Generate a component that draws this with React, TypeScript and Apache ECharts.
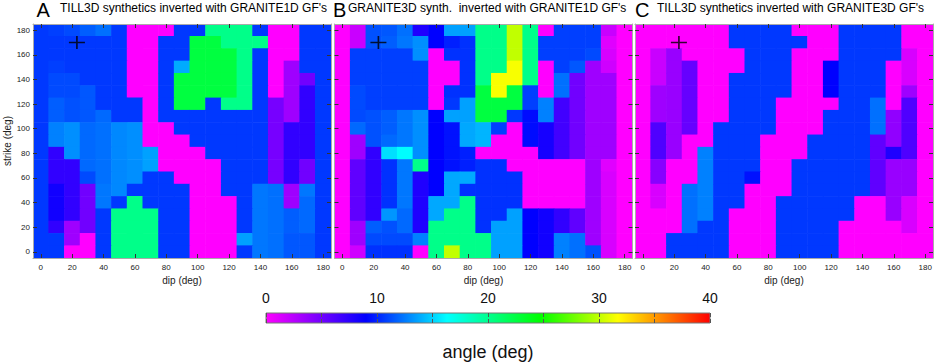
import React, { useEffect, useRef } from 'react';
import * as echarts from 'echarts';

// ---------- data ----------
const DIP = ['0', '10', '20', '30', '40', '50', '60', '70', '80', '90', '100', '110', '120', '130', '140', '150', '160', '170', '180'];
const STRIKE = ['0', '10', '20', '30', '40', '50', '60', '70', '80', '90', '100', '110', '120', '130', '140', '150', '160', '170', '180'];

// angle (deg); rows from strike 180 (top) down to strike 0, columns dip 0..180
const gridA: number[][] = [
  [10.6, 10.8, 11.1, 11.7, 12.2, 10.6, 0, 0, 0, 10.6, 10.6, 20.2, 20.2, 20.2, 10.6, 0, 0, 10.6, 10.6],
  [10.6, 10.6, 10.6, 10.6, 10.6, 10.6, 0, 0, 10.6, 10.6, 22.6, 22.6, 20.2, 20.2, 20.2, 0, 0, 10.6, 10.6],
  [10.6, 10.6, 10.6, 10.6, 10.6, 10.6, 0, 0, 10.6, 10.6, 22.6, 22.6, 22.6, 20.2, 10.6, 0, 0, 10.6, 10.6],
  [10.6, 10.8, 10.6, 10.6, 10.6, 10.6, 0, 0, 10.6, 13.9, 22.6, 22.6, 22.6, 20.2, 10.6, 0, 3.4, 10.6, 10.6],
  [10.6, 11.1, 11.1, 10.6, 10.6, 10.6, 0, 0, 10.6, 22.6, 22.6, 22.6, 22.6, 20.2, 10.6, 0, 3.4, 5.0, 10.6],
  [10.6, 11.1, 11.1, 11.5, 10.6, 10.6, 0, 0, 10.6, 22.6, 22.6, 22.6, 22.6, 20.2, 10.6, 0, 3.4, 7.3, 10.6],
  [10.6, 11.7, 11.3, 11.5, 10.6, 10.6, 10.6, 0, 10.6, 22.6, 22.6, 10.6, 20.2, 20.2, 10.6, 4.8, 3.4, 7.3, 10.6],
  [10.6, 11.7, 11.3, 11.5, 12.0, 10.6, 10.6, 0, 10.6, 10.6, 10.6, 10.6, 10.6, 10.6, 10.6, 4.8, 3.4, 7.3, 10.6],
  [10.6, 12.7, 13.1, 12.0, 12.2, 12.9, 13.1, 0, 0, 10.6, 10.6, 10.6, 10.6, 10.6, 10.6, 4.8, 7.3, 7.3, 10.6],
  [10.6, 12.7, 13.1, 12.0, 12.2, 12.9, 13.1, 0, 0, 0, 10.6, 10.6, 10.6, 10.6, 10.6, 4.8, 7.3, 7.3, 10.6],
  [10.6, 7.3, 13.1, 12.0, 12.2, 12.9, 13.1, 13.6, 0, 0, 0, 10.6, 10.6, 10.6, 10.6, 4.8, 7.3, 7.3, 10.6],
  [10.6, 7.3, 7.3, 12.0, 12.2, 12.9, 13.1, 13.6, 0, 0, 0, 0, 10.6, 10.6, 10.6, 4.8, 7.3, 5.0, 10.6],
  [10.6, 7.3, 7.3, 11.1, 12.2, 12.9, 13.1, 10.6, 10.6, 0, 0, 0, 10.6, 10.6, 10.6, 4.8, 7.3, 5.0, 10.6],
  [10.6, 8.4, 7.3, 5.0, 12.4, 12.9, 10.6, 10.6, 10.6, 10.6, 0, 0, 10.6, 10.6, 12.4, 12.2, 3.4, 12.4, 10.6],
  [10.6, 8.4, 7.3, 5.0, 12.4, 10.6, 20.2, 10.6, 10.6, 10.6, 0, 0, 0, 10.6, 12.4, 12.2, 3.4, 12.0, 10.6],
  [10.6, 8.4, 7.3, 5.0, 10.6, 20.2, 20.2, 20.2, 10.6, 10.6, 0, 0, 0, 10.6, 12.4, 12.2, 11.7, 12.0, 10.6],
  [10.6, 7.3, 3.4, 5.0, 10.6, 20.2, 20.2, 20.2, 10.6, 10.6, 0, 0, 0, 10.6, 12.4, 12.2, 11.7, 12.0, 10.6],
  [10.6, 10.6, 3.4, 0, 10.6, 20.2, 20.2, 20.2, 10.6, 10.6, 0, 0, 0, 13.6, 12.4, 12.2, 11.5, 11.5, 10.6],
  [10.6, 10.6, 0, 0, 10.6, 20.2, 20.2, 20.2, 10.6, 10.6, 0, 0, 0, 10.6, 12.4, 12.2, 11.5, 11.5, 10.6],
];

const gridB: number[][] = [
  [0, 1.9, 11.3, 11.5, 12.2, 7.9, 9.0, 13.6, 13.6, 20.2, 20.2, 30, 20.2, 0, 10.8, 10.8, 10.8, 1.9, 0],
  [0, 1.9, 11.3, 11.7, 12.4, 13.1, 9.0, 9.9, 10.4, 20.2, 20.2, 30, 20.2, 10.8, 10.8, 10.8, 10.8, 1.1, 0],
  [0, 10.8, 10.8, 10.8, 10.8, 13.1, 0, 10.4, 10.4, 20.2, 20.2, 30, 20.2, 10.8, 10.8, 10.8, 11.1, 1.4, 0],
  [0, 10.8, 10.8, 10.8, 10.8, 10.8, 0, 0, 10.4, 20.2, 20.2, 31.5, 20.2, 0, 10.8, 11.5, 3.4, 1.7, 0],
  [0, 10.8, 10.8, 10.8, 10.8, 10.8, 0, 0, 10.4, 20.2, 31.5, 31.5, 20.2, 0, 12.2, 5.0, 3.4, 3.4, 0],
  [0, 11.1, 10.8, 10.8, 10.8, 10.8, 0, 10.4, 10.4, 22.6, 31.5, 22.6, 10.8, 0, 12.2, 5.0, 3.4, 3.4, 0],
  [0, 11.1, 10.8, 10.8, 10.8, 10.8, 0, 10.6, 13.6, 22.6, 22.6, 22.6, 10.8, 12.7, 6.7, 5.0, 3.4, 3.4, 0],
  [0, 11.1, 11.3, 11.7, 12.4, 13.1, 9.0, 13.6, 13.6, 22.6, 22.6, 10.6, 9.3, 12.7, 6.7, 5.0, 3.4, 3.4, 0],
  [0, 12.0, 11.3, 11.7, 12.4, 13.1, 9.0, 9.5, 13.8, 14.2, 10.8, 0, 9.3, 8.2, 6.7, 5.0, 3.4, 3.4, 0],
  [0, 3.4, 11.3, 12.0, 12.4, 13.1, 9.0, 9.5, 13.8, 14.2, 0, 0, 9.3, 8.2, 6.7, 5.0, 3.4, 3.4, 0],
  [0, 3.4, 7.3, 15.4, 16.3, 13.1, 9.0, 9.5, 9.9, 0, 0, 0, 0, 8.2, 6.7, 5.0, 3.4, 3.4, 0],
  [0, 5.6, 7.3, 10.4, 12.4, 20.2, 9.0, 9.5, 9.9, 10.4, 10.4, 0, 0, 0, 0, 0, 3.4, 1.1, 0],
  [0, 5.6, 7.3, 10.4, 12.4, 7.9, 9.0, 13.8, 13.9, 10.4, 10.4, 10.4, 0, 0, 0, 0, 3.4, 1.4, 0],
  [0, 5.6, 7.3, 10.4, 12.4, 7.9, 9.0, 13.8, 10.4, 10.4, 10.4, 10.4, 0, 0, 0, 0, 3.4, 1.4, 0],
  [0, 5.6, 7.3, 10.4, 12.4, 7.9, 13.8, 13.8, 20.2, 10.4, 10.4, 10.4, 0, 0, 0, 0, 3.4, 1.4, 0],
  [0, 5.6, 7.3, 13.3, 12.0, 7.9, 13.8, 20.2, 20.2, 10.4, 10.4, 13.6, 9.0, 8.4, 7.3, 5.6, 3.4, 1.4, 0],
  [0, 3.4, 11.7, 11.3, 12.0, 7.9, 20.2, 20.2, 20.2, 10.4, 13.6, 13.6, 9.0, 8.4, 7.3, 5.6, 3.4, 1.4, 0],
  [0, 3.4, 11.1, 11.1, 11.1, 12.7, 20.2, 20.2, 20.2, 20.2, 13.6, 13.6, 9.0, 8.4, 12.7, 12.2, 3.4, 1.4, 0],
  [0, 1.7, 10.4, 10.4, 10.4, 0, 20.2, 30, 20.2, 20.2, 13.6, 13.6, 9.0, 8.4, 12.7, 12.2, 11.3, 1.4, 0],
];

const gridC: number[][] = [
  [0, 0, 0, 0, 0, 0, 10.6, 10.6, 10.6, 10.6, 0, 0, 0, 10.6, 10.6, 10.6, 10.6, 0, 0],
  [0, 0, 0, 0, 0, 0, 10.6, 10.6, 10.6, 10.6, 10.6, 0, 0, 10.6, 10.6, 10.6, 10.6, 0, 0],
  [0, 1.9, 3.6, 0, 0, 0, 0, 10.6, 10.6, 10.6, 0, 0, 0, 10.6, 10.6, 10.6, 10.6, 1.4, 0],
  [0, 1.9, 3.6, 5.4, 0, 0, 0, 10.6, 10.6, 10.6, 0, 0, 9.0, 10.6, 10.6, 10.6, 0, 1.4, 0],
  [0, 1.9, 3.6, 5.4, 0, 0, 10.6, 10.6, 10.6, 10.6, 0, 0, 9.0, 10.6, 10.6, 10.6, 0, 1.4, 0],
  [0, 3.4, 3.6, 5.4, 0, 0, 10.6, 10.6, 10.6, 10.6, 0, 0, 9.0, 10.6, 10.6, 10.6, 0, 3.4, 0],
  [0, 3.4, 3.6, 5.4, 0, 0, 10.6, 10.6, 10.6, 0, 0, 0, 0, 10.6, 10.6, 12.2, 0, 6.2, 0],
  [0, 3.4, 3.6, 5.4, 0, 0, 10.6, 10.6, 10.6, 0, 0, 0, 10.6, 10.6, 10.6, 12.2, 3.9, 6.2, 0],
  [0, 6.2, 3.6, 5.4, 0, 10.6, 10.6, 10.6, 10.6, 0, 0, 0, 10.6, 10.6, 10.6, 12.2, 3.9, 6.2, 0],
  [0, 6.2, 3.6, 0, 0, 10.6, 10.6, 10.6, 0, 0, 0, 10.6, 10.6, 10.6, 10.6, 5.6, 3.9, 6.2, 0],
  [0, 6.2, 3.6, 0, 12.7, 10.6, 10.6, 10.6, 0, 0, 0, 10.6, 10.6, 10.6, 10.6, 5.6, 7.9, 6.2, 0],
  [0, 4.2, 0, 0, 12.7, 10.6, 10.6, 10.6, 0, 0, 10.6, 10.6, 10.6, 10.6, 10.6, 5.6, 3.6, 3.6, 0],
  [0, 4.2, 0, 0, 12.7, 10.6, 10.6, 9.5, 0, 0, 10.6, 10.6, 10.6, 10.6, 10.6, 5.6, 3.6, 3.6, 0],
  [0, 1.4, 0, 12.2, 12.7, 10.6, 10.6, 0, 0, 0, 10.6, 10.6, 10.6, 10.6, 10.6, 5.6, 3.6, 3.6, 0],
  [0, 1.4, 0, 12.2, 12.7, 10.6, 10.6, 0, 0, 10.6, 10.6, 10.6, 10.6, 10.6, 0, 0, 3.6, 1.4, 0],
  [0, 0, 0, 12.2, 12.7, 10.6, 0, 0, 0, 10.6, 10.6, 10.6, 10.6, 10.6, 0, 0, 3.6, 1.4, 0],
  [0, 0, 0, 12.2, 10.6, 10.6, 0, 0, 0, 10.6, 10.6, 10.6, 10.6, 0, 0, 0, 0, 1.4, 0],
  [0, 0, 10.6, 10.6, 10.6, 10.6, 0, 0, 0, 10.6, 10.6, 10.6, 10.6, 0, 0, 0, 0, 0, 0],
  [0, 0, 10.6, 10.6, 10.6, 10.6, 0, 0, 0, 10.6, 10.6, 10.6, 10.6, 0, 0, 0, 0, 0, 0],
];

const PANEL_LETTERS = ['A', 'B', 'C'];
const PANEL_TITLES = [
  "TILL3D synthetics inverted with GRANITE1D GF's",
  "GRANITE3D synth.  inverted with GRANITE1D GF's",
  "TILL3D synthetics inverted with GRANITE3D GF's",
];
// "+" marker (true solution) in dip / strike
const MARK_DIP = [23, 23, 23];
const MARK_STRIKE = [170, 170, 170];

const CBAR_MIN = 0;
const CBAR_MAX = 40;
const CMAP_POS = [0, 9, 16.3, 24.7, 31.7, 40];
const CMAP_COL = ['#ff00ff', '#0000ff', '#00ffff', '#00ff00', '#ffff00', '#ff0000'];

// ---------- helpers ----------
const FONT = 'Liberation Sans, Arial, sans-serif';
const PANEL_LEFT = [33, 334.5, 635];
const PANEL_W = 298;
const PANEL_TOP = 24;
const PANEL_H = 234;

function hexToRgb(h: string) {
  return [parseInt(h.slice(1, 3), 16), parseInt(h.slice(3, 5), 16), parseInt(h.slice(5, 7), 16)];
}
function cmap(v: number) {
  let i = 0;
  while (i < CMAP_POS.length - 2 && v > CMAP_POS[i + 1]) i++;
  const t = Math.min(1, Math.max(0, (v - CMAP_POS[i]) / (CMAP_POS[i + 1] - CMAP_POS[i])));
  const a = hexToRgb(CMAP_COL[i]);
  const b = hexToRgb(CMAP_COL[i + 1]);
  const c = a.map((x, k) => Math.round(x + (b[k] - x) * t));
  return `rgb(${c[0]},${c[1]},${c[2]})`;
}
const PALETTE = Array.from({ length: 161 }, (_, i) => cmap(CBAR_MIN + (i * (CBAR_MAX - CBAR_MIN)) / 160));

function toCells(g: number[][]) {
  const out: number[][] = [];
  g.forEach((row, r) => row.forEach((v, c) => out.push([c, g.length - 1 - r, v])));
  return out;
}

export default function App() {
  const ref = useRef<HTMLDivElement>(null);
  useEffect(() => {
    document.body.style.margin = '0';
    const chart = echarts.init(ref.current!, undefined, { renderer: 'svg' });
    const grids = [gridA, gridB, gridC];

    const gridOpts: any[] = PANEL_LEFT.map((l) => ({ left: l, top: PANEL_TOP, width: PANEL_W, height: PANEL_H }));
    gridOpts.push({ left: 266, top: 313, width: 444, height: 21 });

    const xAxes: any[] = [];
    const yAxes: any[] = [];
    const series: any[] = [];
    const tickStyle = { show: true, inside: true, alignWithLabel: true, interval: 1, length: 4, lineStyle: { color: '#333', width: 1 } };
    const lineStyle = { show: true, onZero: false, lineStyle: { color: '#aaa', width: 1 } };

    for (let p = 0; p < 3; p++) {
      xAxes.push({
        type: 'category', gridIndex: p, data: DIP, position: 'bottom', z: 10,
        axisLine: lineStyle, axisTick: tickStyle,
        axisLabel: { interval: 1, fontSize: 8, color: '#222', margin: 5, fontFamily: FONT },
        name: 'dip (deg)', nameLocation: 'middle', nameGap: 17,
        nameTextStyle: { fontSize: 10, color: '#222', fontFamily: FONT },
        splitLine: { show: false },
      });
      xAxes.push({
        type: 'category', gridIndex: p, data: DIP, position: 'top', z: 10,
        axisLine: lineStyle, axisTick: tickStyle, axisLabel: { show: false }, splitLine: { show: false },
      });
      xAxes.push({ type: 'value', gridIndex: p, min: -5, max: 185, show: false, axisLine: { onZero: false } });
      yAxes.push({
        type: 'category', gridIndex: p, data: STRIKE, position: 'left', z: 10,
        axisLine: lineStyle, axisTick: tickStyle,
        axisLabel: { show: p === 0, interval: 1, fontSize: 8, color: '#222', margin: 3, fontFamily: FONT },
        name: p === 0 ? 'strike (deg)' : '', nameLocation: 'middle', nameGap: 20,
        nameTextStyle: { fontSize: 10, color: '#222', fontFamily: FONT },
        splitLine: { show: false },
      });
      yAxes.push({
        type: 'category', gridIndex: p, data: STRIKE, position: 'right', z: 10,
        axisLine: lineStyle, axisTick: tickStyle, axisLabel: { show: false }, splitLine: { show: false },
      });
      yAxes.push({ type: 'value', gridIndex: p, min: -5, max: 185, show: false, axisLine: { onZero: false } });

      series.push({
        type: 'custom', xAxisIndex: p * 3, yAxisIndex: p * 3, data: toCells(grids[p]),
        encode: { x: 0, y: 1 }, clip: true, silent: true,
        renderItem: (_params: any, api: any) => {
          const c = api.coord([api.value(0), api.value(1)]);
          const s = api.size([1, 1]);
          return {
            type: 'rect',
            shape: { x: c[0] - s[0] / 2 - 0.3, y: c[1] - s[1] / 2 - 0.3, width: s[0] + 0.6, height: s[1] + 0.6 },
            style: { fill: api.visual('color') },
          };
        },
      });
    }
    for (let p = 0; p < 3; p++) {
      series.push({
        type: 'scatter', xAxisIndex: p * 3 + 2, yAxisIndex: p * 3 + 2, z: 20, silent: true,
        data: [[MARK_DIP[p], MARK_STRIKE[p]]],
        symbol: 'path://M7,0L7,14M0,7L14,7', symbolSize: [16, 13],
        itemStyle: { color: 'none', borderColor: '#000', borderWidth: 1.5 },
      });
    }

    // colorbar
    xAxes.push({
      type: 'value', gridIndex: 3, min: CBAR_MIN, max: CBAR_MAX, interval: 5, position: 'top', z: 10,
      axisLine: { show: false, onZero: false },
      axisTick: { show: true, inside: true, length: 4, lineStyle: { color: '#555' } },
      axisLabel: { fontSize: 14, color: '#111', margin: 8, fontFamily: FONT, formatter: (v: number) => (v % 10 === 0 ? String(v) : '') },
      splitLine: { show: false },
    });
    xAxes.push({
      type: 'value', gridIndex: 3, min: CBAR_MIN, max: CBAR_MAX, interval: 5, position: 'bottom', z: 10,
      axisLine: { show: false, onZero: false },
      axisTick: { show: true, inside: true, length: 4, lineStyle: { color: '#555' } },
      axisLabel: { show: false }, splitLine: { show: false },
      name: 'angle (deg)', nameLocation: 'middle', nameGap: 20,
      nameTextStyle: { fontSize: 18, color: '#111', fontFamily: FONT },
    });
    yAxes.push({ type: 'value', gridIndex: 3, min: 0, max: 1, show: false, axisLine: { onZero: false } });
    const stops = CMAP_POS.map((p, i) => ({ offset: (p - CBAR_MIN) / (CBAR_MAX - CBAR_MIN), color: CMAP_COL[i] }));
    series.push({
      type: 'custom', xAxisIndex: 9, yAxisIndex: 9, silent: true,
      data: [[CBAR_MIN, 0, CBAR_MAX, 1]],
      renderItem: (_params: any, api: any) => {
        const a = api.coord([api.value(0), api.value(1)]);
        const b = api.coord([api.value(2), api.value(3)]);
        return {
          type: 'rect',
          shape: { x: a[0], y: b[1], width: b[0] - a[0], height: a[1] - b[1] },
          style: { fill: new echarts.graphic.LinearGradient(0, 0, 1, 0, stops), stroke: '#777', lineWidth: 1 },
        };
      },
    });

    const letterX = [36.5, 333, 635];
    const titleX = [60, 348, 657];
    const graphic: any[] = [];
    for (let p = 0; p < 3; p++) {
      graphic.push({ type: 'text', x: letterX[p], y: 0, style: { text: PANEL_LETTERS[p], fontSize: 20, fontFamily: FONT, fill: '#000' } });
      graphic.push({ type: 'text', x: titleX[p], y: 2, style: { text: PANEL_TITLES[p], fontSize: 12, fontFamily: FONT, fill: '#000' } });
    }

    chart.setOption({
      animation: false,
      backgroundColor: '#fff',
      textStyle: { fontFamily: FONT },
      grid: gridOpts,
      xAxis: xAxes,
      yAxis: yAxes,
      visualMap: {
        type: 'continuous', min: CBAR_MIN, max: CBAR_MAX, dimension: 2, seriesIndex: [0, 1, 2], show: false,
        inRange: { color: PALETTE },
      },
      series,
      graphic,
    });
    return () => chart.dispose();
  }, []);
  return <div ref={ref} style={{ position: 'absolute', left: 0, top: 0, width: 935, height: 362 }} />;
}
